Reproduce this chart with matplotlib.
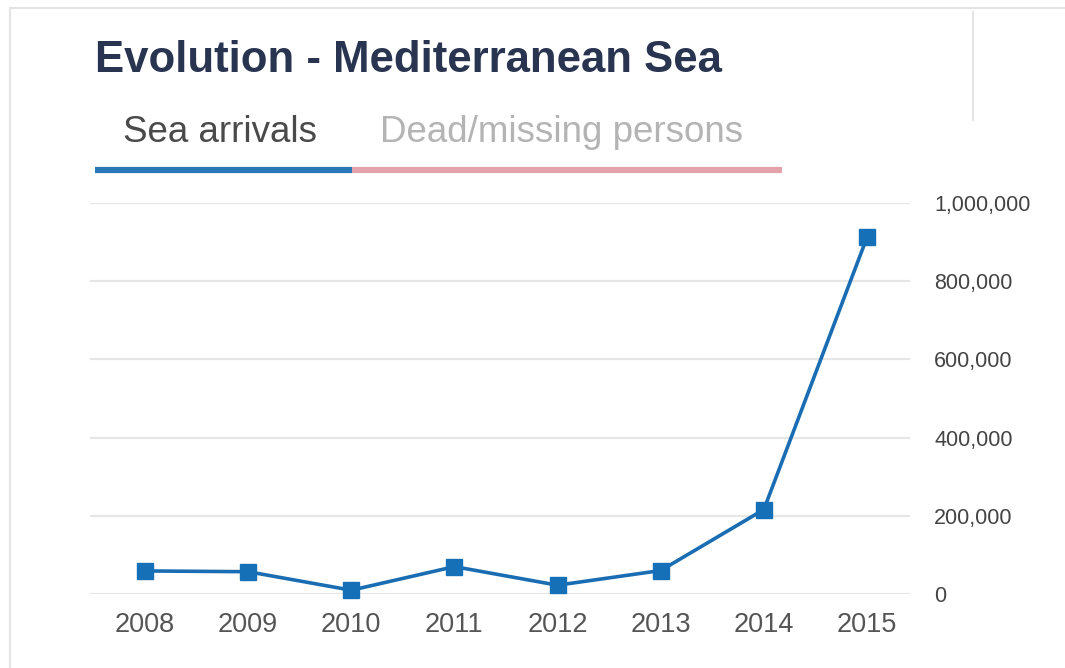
import matplotlib
matplotlib.use("Agg")
import matplotlib.pyplot as plt
from matplotlib.ticker import FuncFormatter
from matplotlib.lines import Line2D

years = ["2008", "2009", "2010", "2011", "2012", "2013", "2014", "2015"]
sea_arrivals = [59000, 57000, 9700, 70000, 22500, 60000, 216000, 912000]
y_ticks = [0, 200000, 400000, 600000, 800000, 1000000]
title = "Evolution - Mediterranean Sea"
tab_active = "Sea arrivals"
tab_inactive = "Dead/missing persons"

plt.rcParams['font.family'] = ['Liberation Sans', 'DejaVu Sans']

W, H = 1065, 668
fig = plt.figure(figsize=(W / 100, H / 100), dpi=100)
fig.patch.set_facecolor("white")

def fx(px):
    return px / W

def fy(py):
    return 1 - py / H

ax = fig.add_axes([fx(90), fy(594), fx(910) - fx(90), fy(203) - fy(594)])
x = list(range(len(years)))
ax.plot(x, sea_arrivals, color="#1a6db3", lw=2.6, marker="s", ms=11.5,
        markerfacecolor="#1670b8", markeredgecolor="#1670b8", zorder=3, clip_on=False)
ax.set_xlim(-0.533, 7.417)
ax.set_ylim(0, 1000000)
ax.set_yticks(y_ticks)
ax.yaxis.set_major_formatter(FuncFormatter(lambda v, p: f"{int(v):,}"))
ax.yaxis.tick_right()
ax.set_xticks(x)
ax.set_xticklabels(years)
ax.tick_params(axis="x", length=0, labelsize=19.5, colors="#555555", pad=13)
ax.tick_params(axis="y", length=0, labelsize=15.5, colors="#444444", pad=17.5)
for lab in ax.get_yticklabels():
    lab.set_horizontalalignment("left")
ax.grid(axis="y", color="#e6e6e6", lw=1.6)
ax.set_axisbelow(True)
for s in ax.spines.values():
    s.set_visible(False)

# Title and tabs
fig.text(fx(95), fy(61), title, fontsize=31.5, fontweight="bold", color="#283450",
         va="center", ha="left")
fig.text(fx(123), fy(132), tab_active, fontsize=26.5, color="#4a4a4a", va="center", ha="left")
fig.text(fx(380), fy(132), tab_inactive, fontsize=26.5, color="#b4b4b4", va="center", ha="left")
fig.add_artist(Line2D([fx(95), fx(352)], [fy(170), fy(170)], color="#2b78b6", lw=4.5,
                      solid_capstyle="butt"))
fig.add_artist(Line2D([fx(352), fx(782)], [fy(170), fy(170)], color="#e2a3aa", lw=4.5,
                      solid_capstyle="butt"))

# faint frame of the screenshot
fig.add_artist(Line2D([fx(10), fx(1065)], [fy(8), fy(8)], color="#e4e4e4", lw=1.5))
fig.add_artist(Line2D([fx(10), fx(10)], [fy(8), fy(668)], color="#e4e4e4", lw=1.5))
fig.add_artist(Line2D([fx(973), fx(973)], [fy(12), fy(120)], color="#e4e4e4", lw=1.5))

fig.savefig("out.png", dpi=100, facecolor="white")
